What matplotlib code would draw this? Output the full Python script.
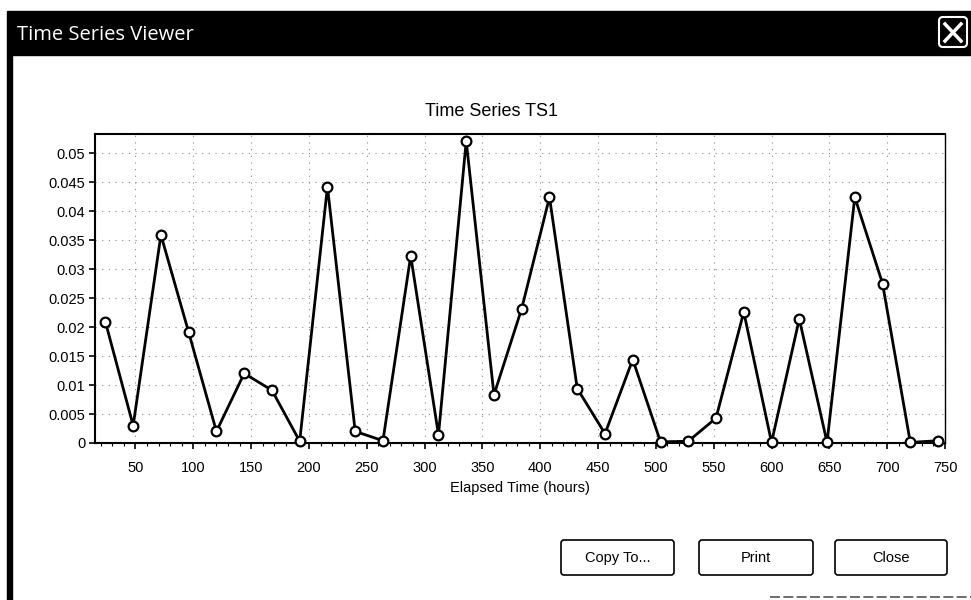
import numpy as np
import matplotlib
matplotlib.use('Agg')
import matplotlib.pyplot as plt
from matplotlib.patches import Rectangle, FancyBboxPatch
from matplotlib.ticker import MultipleLocator, FuncFormatter

# Elapsed time (hours) and series values read from the viewer
hours = [24, 48, 72, 96, 120, 144, 168, 192, 216, 240, 264, 288, 312, 336, 360, 384,
         408, 432, 456, 480, 504, 528, 552, 576, 600, 624, 648, 672, 696, 720, 744]
ts1 = [0.0209, 0.0030, 0.0359, 0.0191, 0.0020, 0.0120, 0.0091, 0.0003, 0.0442, 0.0020,
       0.0004, 0.0323, 0.0014, 0.0521, 0.0083, 0.0232, 0.0424, 0.0094, 0.0016, 0.0144,
       0.0002, 0.0003, 0.0043, 0.0226, 0.0001, 0.0214, 0.0001, 0.0424, 0.0275, 0.0001,
       0.0004]

yticks = [0, 0.005, 0.01, 0.015, 0.02, 0.025, 0.03, 0.035, 0.04, 0.045, 0.05]
xticks = [50, 100, 150, 200, 250, 300, 350, 400, 450, 500, 550, 600, 650, 700, 750]

W, H = 971, 600
FONT = ['Liberation Sans', 'DejaVu Sans']

fig = plt.figure(figsize=(W / 100, H / 100), dpi=100)
fig.patch.set_facecolor('white')


def px_axes(x0, y0, x1, y1):
    # axes rectangle given in screen pixels (top-left origin)
    return [x0 / W, 1 - y1 / H, (x1 - x0) / W, (y1 - y0) / H]


# window chrome drawn on a full-figure overlay in pixel units
ui = fig.add_axes([0, 0, 1, 1])
ui.set_xlim(0, W)
ui.set_ylim(H, 0)
ui.axis('off')
ui.add_patch(Rectangle((7, 11), 964, 44, color='black', zorder=1))
ui.add_patch(Rectangle((7, 55), 5, 545, color='black', zorder=1))
ui.text(17, 35, 'Time Series Viewer', color='white', fontsize=14.5,
        family=['Open Sans', 'DejaVu Sans'], va='center', ha='left')
ui.add_patch(FancyBboxPatch((939, 17), 28, 30, boxstyle='round,pad=0,rounding_size=4',
                            fc='black', ec='white', lw=1.5, zorder=2))
ui.plot([945, 961], [24, 41], color='white', lw=2.5, zorder=3)
ui.plot([961, 945], [24, 41], color='white', lw=2.5, zorder=3)
ui.plot([770, 971], [597, 597], color='#555555', lw=1.2, ls=(0, (6, 2)))

for label, x0, x1 in [('Copy To...', 561, 674), ('Print', 699, 813), ('Close', 835, 947)]:
    ui.add_patch(FancyBboxPatch((x0, 540), x1 - x0, 35,
                                boxstyle='round,pad=0,rounding_size=3',
                                fc='white', ec='black', lw=1.2))
    ui.text((x0 + x1) / 2, 558, label, fontsize=10.5, family=FONT,
            ha='center', va='center', color='black')

ax = fig.add_axes(px_axes(95, 134, 945, 443))
ax.plot(hours, ts1, color='black', lw=2, marker='o', ms=7,
        mfc='white', mec='black', mew=1.6, zorder=3, clip_on=False)
ax.set_xlim(15, 750)
ax.set_ylim(0, 0.0533)
ax.set_xticks(xticks)
ax.set_yticks(yticks)
ax.xaxis.set_minor_locator(MultipleLocator(10))
ax.yaxis.set_major_formatter(FuncFormatter(lambda v, p: '%g' % round(v, 4)))
ax.tick_params(axis='both', which='major', direction='out', length=4, width=1.2,
               labelsize=10.5)
ax.tick_params(axis='x', which='major', pad=9)
ax.tick_params(axis='y', which='major', pad=3)
ax.tick_params(axis='x', which='minor', direction='out', length=2, width=0.8)
for lab in ax.get_xticklabels() + ax.get_yticklabels():
    lab.set_family(FONT)
for s in ax.spines.values():
    s.set_linewidth(1.5)
ax.spines['right'].set_linewidth(1.0)
ax.grid(True, which='major', color='#888888', lw=0.8, ls=(0, (1, 5)))
ax.set_xlabel('Elapsed Time (hours)', fontsize=10.5, family=FONT, labelpad=4)

fig.text(491 / W, 1 - 112 / H, 'Time Series TS1', fontsize=13, family=FONT,
         ha='center', va='center')

fig.savefig('out.png', dpi=100, facecolor='white')
